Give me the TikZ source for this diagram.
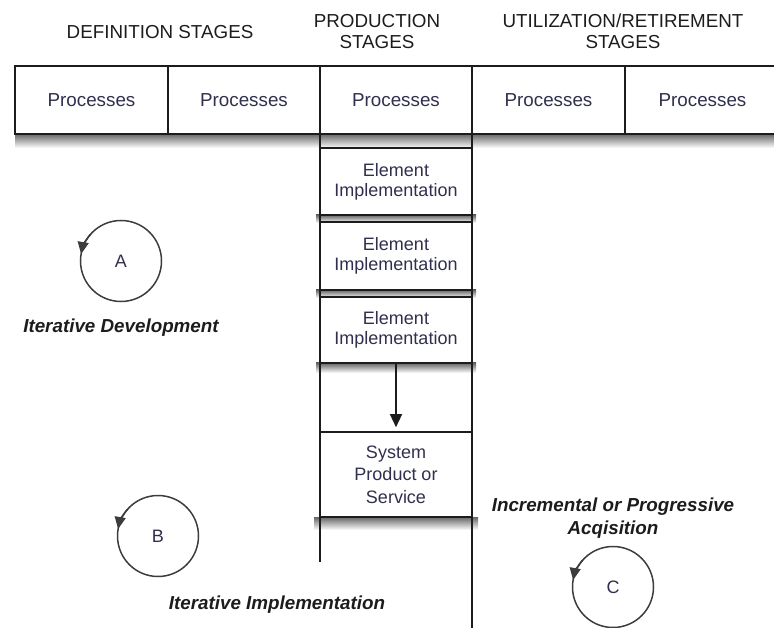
\documentclass[tikz,border=0pt]{standalone}
\usepackage{fontspec}
\setmainfont{Liberation Sans}
\usetikzlibrary{arrows.meta}
\definecolor{proc}{RGB}{48,48,78}
\definecolor{ink}{RGB}{28,28,28}
\definecolor{ring}{RGB}{60,60,60}
\tikzset{
  x=1pt, y=1pt,
  cell/.style={draw=ink, fill=white, line width=1.6pt, minimum height=68pt, inner sep=0pt,
    font=\fontsize{18.8}{20}\selectfont, text=proc},
  elem/.style={draw=ink, fill=white, line width=1.6pt, minimum width=152pt, inner sep=0pt,
    align=center, font=\fontsize{18}{20}\selectfont, text=proc},
  hdr/.style={align=center, font=\fontsize{18.8}{21}\selectfont, text=ink},
  lbl/.style={align=center, font=\fontsize{18.8}{23}\selectfont\bfseries\itshape, text=ink},
  loopc/.style={circle, draw=ring, line width=1.5pt, minimum size=81pt, inner sep=0pt,
    font=\fontsize{18}{18}\selectfont, text=proc},
  looparr/.style={draw=ring, line width=1.5pt, -{Triangle[length=12pt,width=11pt]}},
  vline/.style={draw=ink, line width=1.8pt},
  shad/.style={top color=black!60, bottom color=white},
}
\begin{document}
\begin{tikzpicture}
\useasboundingbox (0,0) rectangle (774,-628);
% shadows
\shade[shad] (15,-134) rectangle (780,-148);
\shade[shad] (316,-215) rectangle (476,-223);
\shade[shad] (316,-290) rectangle (476,-298);
\shade[shad] (316,-363) rectangle (476,-373);
\shade[shad] (314,-517) rectangle (478,-530);
% headers
\node[hdr] (h1) at (160,-32) {DEFINITION STAGES};
\node[hdr] (h2) at (377,-32) {PRODUCTION\\STAGES};
\node[hdr] (h3) at (623,-31) {UTILIZATION/RETIREMENT\\STAGES};
% vertical lines
\coordinate (l1) at (320,-134);
\coordinate (l2) at (320,-562);
\coordinate (r1) at (472,-134);
\coordinate (r2) at (472,-630);
\draw[vline] (l1) -- (l2);
\draw[vline] (r1) -- (r2);
% process bar
\node[cell, minimum width=153pt] (p1) at (91.5,-100) {Processes};
\node[cell, minimum width=152pt] (p2) at (244,-100) {Processes};
\node[cell, minimum width=152pt] (p3) at (396,-100) {Processes};
\node[cell, minimum width=153pt] (p4) at (548.5,-100) {Processes};
\node[cell, minimum width=155pt] (p5) at (702.5,-100) {Processes};
% element boxes
\node[elem, minimum height=67pt] (e1) at (396,-181.5) {Element\\Implementation};
\node[elem, minimum height=68pt] (e2) at (396,-256) {Element\\Implementation};
\node[elem, minimum height=66pt] (e3) at (396,-330) {Element\\Implementation};
\node[elem, minimum height=85pt, font=\fontsize{18}{22.5}\selectfont] (sys) at (396,-474.5) {System\\Product or\\Service};
\draw[draw=ink, line width=1.4pt, -{Triangle[length=13pt,width=12pt]}, shorten >=4pt] (e3.south) -- (sys.north);
% loops
\node[loopc] (cA) at (121,-261) {A};
\draw[looparr] ([shift={(138:40.5)}]cA.center) arc (138:170:40.5);
\node[lbl] (tA) at (121,-328) {Iterative Development};
\node[loopc] (cB) at (158,-536) {B};
\draw[looparr] ([shift={(138:40.5)}]cB.center) arc (138:170:40.5);
\node[lbl] (tB) at (277,-605) {Iterative Implementation};
\node[loopc] (cC) at (613,-587) {C};
\draw[looparr] ([shift={(138:40.5)}]cC.center) arc (138:170:40.5);
\node[lbl] (tC) at (613,-518) {Incremental or Progressive\\Acqisition};
\end{tikzpicture}
\end{document}
